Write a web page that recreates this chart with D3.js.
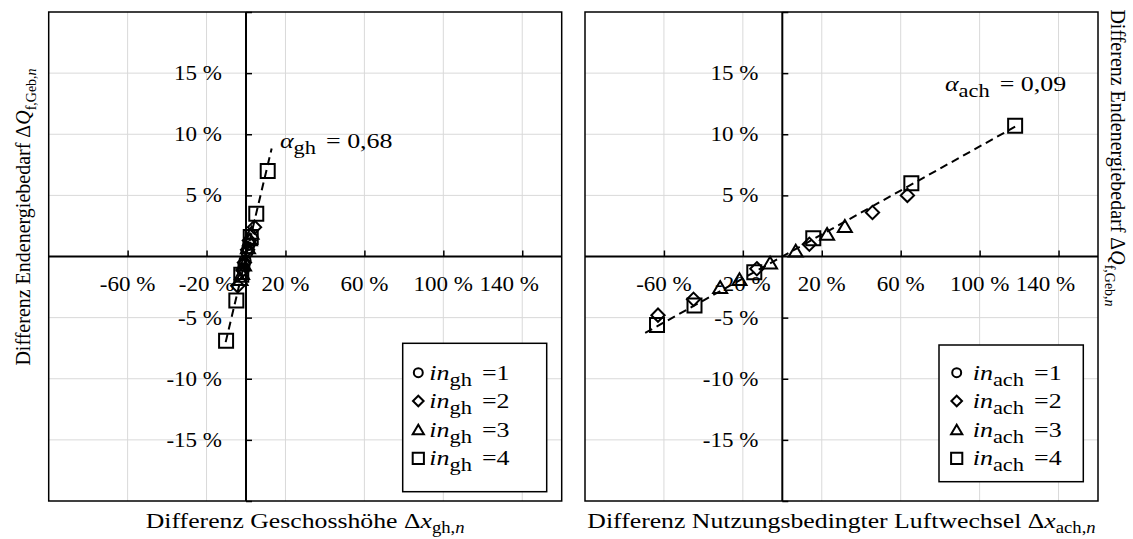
<!DOCTYPE html>
<html>
<head>
<meta charset="utf-8">
<script src="https://cdn.jsdelivr.net/npm/d3@7"></script>
<style>
  body { margin: 0; background: #fff; }
  svg { display: block; }
  text { font-family: "Liberation Serif", "Times New Roman", serif; fill: #000; }
</style>
</head>
<body>
<svg id="chart" width="1133" height="539"></svg>
<script>
// Axis ticks and labels (percent)
const xDomain = [-100, 160];
const yDomain = [-20, 20];
const xTickValues = [-60, -20, 20, 60, 100, 140];
const yTickValues = [15, 10, 5, -5, -10, -15];
const xGridValues = [-60, -20, 20, 60, 100, 140];
const yGridValues = [15, 10, 5, -5, -10, -15];
const levels = [1, 2, 3, 4];
const shapes = ["circle", "diamond", "triangle", "square"];

// Storey height variation: [Δx_gh,n %, ΔQ_f,Geb,n %]
const gh_in1 = [[-1.5, -1.1], [-1.0, -0.7], [-0.5, -0.35], [0.5, 0.35], [1.0, 0.7], [1.5, 1.0]];
const gh_in2 = [[-4.2, -2.4], [-1.6, -1.1], [-0.8, -0.5], [0.8, 0.55], [1.7, 1.3], [4.3, 2.4]];
const gh_in3 = [[-2.8, -1.9], [-2.0, -1.4], [-1.0, -0.7], [1.0, 0.7], [2.0, 1.35], [2.8, 1.9]];
const gh_in4 = [[-10.1, -6.9], [-4.9, -3.6], [-2.4, -1.5], [2.4, 1.6], [5.2, 3.5], [11.0, 7.0]];
const alphaGh = 0.68;
const trendGhRange = [-10.3, 13];

// Use-related air change variation: [Δx_ach,n %, ΔQ_f,Geb,n %]
const ach_in1 = [];
const ach_in2 = [[-63, -4.8], [-45, -3.5], [-12.9, -1.0], [13.7, 1.0], [45.7, 3.6], [63.4, 5.0]];
const ach_in3 = [[-31.5, -2.55], [-21.7, -1.9], [-6.2, -0.55], [6.8, 0.43], [22.7, 1.8], [31.7, 2.45]];
const ach_in4 = [[-63.5, -5.6], [-44.5, -4.0], [-14.2, -1.28], [15.7, 1.5], [65.4, 6.0], [118, 10.7]];
const alphaAch = 0.09;
const trendAchRange = [-69.5, 118];

// text styles: size, subscript size, subscript drop, horizontal stretch
const TICK = { fs: 20, sub: 14, dy: 5, sx: 1.15 };
const MATH = { fs: 22, sub: 19, dy: 6, sx: 1.18 };
const XTITLE = { fs: 22, sub: 16, dy: 5, sx: 1.17 };
const YTITLE = { fs: 20, sub: 14, dy: 5, sx: 1.1 };

const svg = d3.select("#chart");

// Rich text with italic parts and subscripts
function rich(g, x, y, parts, st, opt = {}) {
  let tf = `translate(${x},${y})`;
  if (opt.rotate) tf += ` rotate(${opt.rotate}) scale(1,${st.sx})`;
  else tf += ` scale(${st.sx},1)`;
  const t = g.append("text")
    .attr("transform", tf)
    .attr("text-anchor", opt.anchor || "start")
    .attr("font-size", st.fs);
  let inSub = false;
  parts.forEach(p => {
    const s = t.append("tspan").text(p.s);
    if (p.it) s.attr("font-style", "italic");
    if (p.dx) s.attr("dx", p.dx);
    if (p.sub) {
      s.attr("font-size", st.sub);
      if (!inSub) s.attr("dy", st.dy);
      inSub = true;
    } else {
      if (inSub) s.attr("dy", -st.dy);
      inSub = false;
    }
  });
  return t;
}

function markerPath(shape, s) {
  const p = d3.path();
  if (shape === "square") {
    p.rect(-s, -s, 2 * s, 2 * s);
  } else if (shape === "diamond") {
    const d = s * 0.95;
    p.moveTo(0, -d); p.lineTo(d, 0); p.lineTo(0, d); p.lineTo(-d, 0); p.closePath();
  } else if (shape === "triangle") {
    const h = s * 1.7;
    p.moveTo(0, -h * 0.55); p.lineTo(s, h * 0.45); p.lineTo(-s, h * 0.45); p.closePath();
  } else {
    p.arc(0, 0, s * 0.8, 0, 2 * Math.PI);
  }
  return p.toString();
}

function drawPanel(cfg) {
  const x = d3.scaleLinear().domain(xDomain).range([cfg.x0, cfg.x1]);
  const y = d3.scaleLinear().domain(yDomain).range([cfg.y1, cfg.y0]);
  const g = svg.append("g");

  // grid
  g.append("g").selectAll("line").data(xGridValues).join("line")
    .attr("x1", d => x(d)).attr("x2", d => x(d))
    .attr("y1", cfg.y0).attr("y2", cfg.y1)
    .attr("stroke", "#d9d9d9").attr("stroke-width", 1);
  g.append("g").selectAll("line").data(yGridValues).join("line")
    .attr("y1", d => y(d)).attr("y2", d => y(d))
    .attr("x1", cfg.x0).attr("x2", cfg.x1)
    .attr("stroke", "#d9d9d9").attr("stroke-width", 1);

  // frame
  g.append("rect")
    .attr("x", cfg.x0).attr("y", cfg.y0)
    .attr("width", cfg.x1 - cfg.x0).attr("height", cfg.y1 - cfg.y0)
    .attr("fill", "none").attr("stroke", "#000").attr("stroke-width", 1.5);

  // axes crossing at zero, ticks pointing into the upper/right quadrant
  const xAxis = d3.axisTop(x).tickValues(xTickValues).tickSize(6).tickFormat("");
  const gx = g.append("g").attr("transform", `translate(0,${y(0)})`).call(xAxis);
  gx.select(".domain").attr("stroke-width", 2).attr("d", `M${cfg.x0},0H${cfg.x1}`);
  gx.selectAll(".tick line").attr("stroke-width", 1.5);

  const yAxis = d3.axisRight(y).tickValues(d3.range(-20, 21, 5).filter(v => v !== 0)).tickSize(6).tickFormat("");
  const gy = g.append("g").attr("transform", `translate(${x(0)},0)`).call(yAxis);
  gy.select(".domain").attr("stroke-width", 2).attr("d", `M0,${cfg.y0}V${cfg.y1}`);
  gy.selectAll(".tick line").attr("stroke-width", 1.5);

  // tick labels (the outermost label is pulled inwards to stay clear of the frame)
  xTickValues.forEach((v, i) => {
    const shift = i === xTickValues.length - 1 ? -13 : 0;
    rich(g, x(v) + shift, y(0) + 34, [{ s: `${v} %` }], TICK, { anchor: "middle" });
  });
  yTickValues.forEach(v => {
    rich(g, x(0) - 24, y(v) + 7, [{ s: `${v} %` }], TICK, { anchor: "end" });
  });

  // trend line
  const line = d3.line().x(d => x(d[0])).y(d => y(d[1]));
  g.append("path")
    .datum(cfg.trendRange.map(v => [v, cfg.alpha * v]))
    .attr("d", line)
    .attr("fill", "none").attr("stroke", "#000")
    .attr("stroke-width", 2).attr("stroke-dasharray", "8,5");

  // markers
  cfg.series.forEach((data, i) => {
    g.append("g").selectAll("path").data(data).join("path")
      .attr("transform", d => `translate(${x(d[0])},${y(d[1])})`)
      .attr("d", markerPath(shapes[i], 7))
      .attr("fill", "none").attr("stroke", "#000").attr("stroke-width", 2);
  });

  // slope annotation
  rich(g, cfg.annX, cfg.annY, [
    { s: "α", it: true }, { s: cfg.sub, sub: true }, { s: ` = ${String(cfg.alpha).replace(".", ",")}`, dx: 3 }
  ], MATH);

  // legend
  const lg = g.append("g");
  lg.append("rect")
    .attr("x", cfg.leg.x0).attr("y", cfg.leg.y0)
    .attr("width", cfg.leg.x1 - cfg.leg.x0).attr("height", cfg.leg.y1 - cfg.leg.y0)
    .attr("fill", "#fff").attr("stroke", "#000").attr("stroke-width", 1.5);
  levels.forEach((lv, i) => {
    const ry = cfg.leg.rows[i];
    lg.append("path")
      .attr("transform", `translate(${cfg.leg.mx},${ry})`)
      .attr("d", markerPath(shapes[i], 5.6))
      .attr("fill", "none").attr("stroke", "#000").attr("stroke-width", 2);
    rich(lg, cfg.leg.tx, ry + 7, [
      { s: "in", it: true }, { s: cfg.sub, sub: true }, { s: ` =${lv}`, dx: 3 }
    ], MATH);
  });

  // x title
  rich(g, (cfg.x0 + cfg.x1) / 2, 528, [
    { s: cfg.title + " Δ" }, { s: "x", it: true }, { s: cfg.sub + ",", sub: true }, { s: "n", sub: true, it: true }
  ], XTITLE, { anchor: "middle" });
}

const yTitleParts = [
  { s: "Differenz Endenergiebedarf Δ" }, { s: "Q", it: true },
  { s: "f,Geb,", sub: true }, { s: "n", sub: true, it: true }
];

drawPanel({
  x0: 48.7, x1: 561.7, y0: 12, y1: 501,
  series: [gh_in1, gh_in2, gh_in3, gh_in4],
  alpha: alphaGh, trendRange: trendGhRange,
  sub: "gh", title: "Differenz Geschosshöhe",
  annX: 280, annY: 148,
  leg: { x0: 402.7, x1: 546.7, y0: 343.3, y1: 491.7, rows: [372.7, 401, 430, 458.3], mx: 418.3, tx: 429.3 }
});

drawPanel({
  x0: 585, x1: 1098, y0: 12, y1: 501,
  series: [ach_in1, ach_in2, ach_in3, ach_in4],
  alpha: alphaAch, trendRange: trendAchRange,
  sub: "ach", title: "Differenz Nutzungsbedingter Luftwechsel",
  annX: 945, annY: 91,
  leg: { x0: 939, x1: 1083.3, y0: 345, y1: 481.7, rows: [372.7, 401, 430, 458.3], mx: 956.7, tx: 972.7 }
});

// shared y titles
rich(svg, 30, 217, yTitleParts, YTITLE, { rotate: -90, anchor: "middle" });
rich(svg, 1111, 158, yTitleParts, YTITLE, { rotate: 90, anchor: "middle" });
</script>
</body>
</html>
